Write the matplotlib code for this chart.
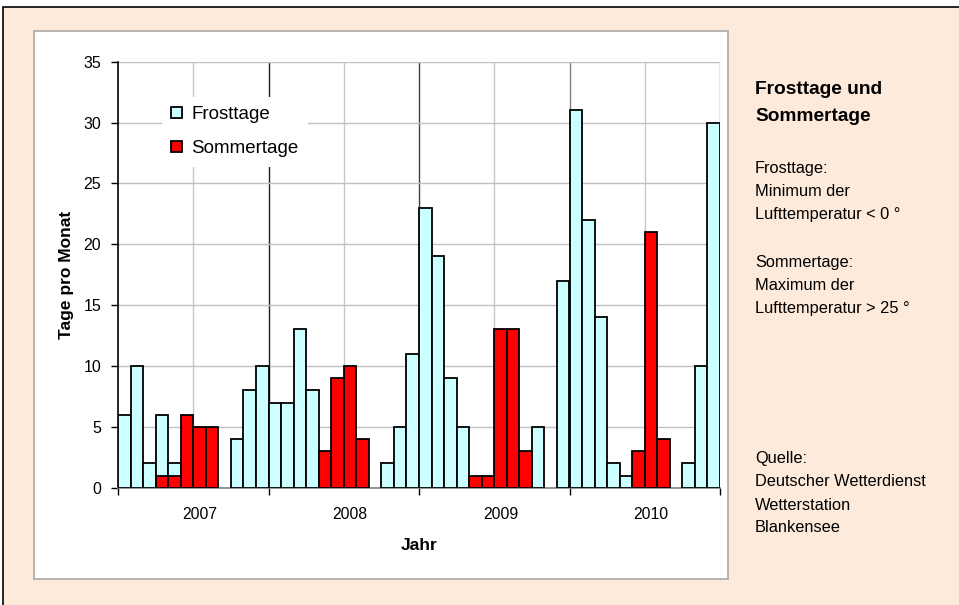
import matplotlib
matplotlib.use("Agg")
import matplotlib.pyplot as plt
import numpy as np
from matplotlib.patches import Rectangle

plt.rcParams['font.family'] = ['Liberation Sans', 'DejaVu Sans']

# monthly values, Jan 2007 .. Dec 2010
frosttage = [6, 10, 2, 6, 2, 0, 0, 0, 0, 4, 8, 10,
             7, 7, 13, 8, 0, 0, 0, 0, 0, 2, 5, 11,
             23, 19, 9, 5, 0, 0, 0, 0, 0, 5, 0, 17,
             31, 22, 14, 2, 1, 0, 0, 0, 0, 2, 10, 30]
sommertage = [0, 0, 0, 1, 1, 6, 5, 5, 0, 0, 0, 0,
              0, 0, 0, 0, 3, 9, 10, 4, 0, 0, 0, 0,
              0, 0, 0, 0, 1, 1, 13, 13, 3, 0, 0, 0,
              0, 0, 0, 0, 0, 3, 21, 4, 0, 0, 0, 0]
jahre = ['2007', '2008', '2009', '2010']

W, H = 959, 605
fig = plt.figure(figsize=(W / 100, H / 100), dpi=100)
fig.patch.set_facecolor('white')


def fx(px):
    return px / W


def fy(py):
    return 1 - py / H


# outer peach frame and white chart area
fig.patches.append(Rectangle((fx(3), fy(620)), fx(980) - fx(3), fy(7) - fy(620),
                             transform=fig.transFigure, facecolor='#FDEADA',
                             edgecolor='black', lw=1.2, zorder=-3))
fig.patches.append(Rectangle((fx(34), fy(579)), fx(728) - fx(34), fy(31) - fy(579),
                             transform=fig.transFigure, facecolor='white',
                             edgecolor='#A8A8A8', lw=1.2, zorder=-2))

ax = fig.add_axes([fx(118), fy(487.7), fx(720) - fx(118), fy(61.7) - fy(487.7)])
ax.set_facecolor('none')

n = len(frosttage)
x = np.arange(n) + 0.5
f = np.array(frosttage, dtype=float)
s = np.array(sommertage, dtype=float)

ax.bar(x[f > 0], f[f > 0], width=1.0, color='#CCFFFF', edgecolor='black',
       lw=1.3, zorder=3, label='Frosttage')
ax.bar(x[s > 0], s[s > 0], width=1.0, color='#FF0000', edgecolor='black',
       lw=1.3, zorder=4, label='Sommertage')

ax.set_xlim(0, n)
ax.set_ylim(0, 35)
ax.set_yticks(np.arange(0, 36, 5))
ax.grid(axis='y', color='#C0C0C0', lw=1, zorder=0)

# vertical grid: mid-year light, year boundaries darker
for k in range(6, n, 12):
    ax.axvline(k, color='#C8C8C8', lw=1, zorder=0)
for k, c in zip(range(12, n + 1, 12), ['#202020', '#404040', '#808080', '#909090']):
    ax.axvline(k, color=c, lw=1, zorder=0)

ax.set_xticks(np.arange(0, n + 1, 12))
ax.set_xticklabels([])
ax.set_xticks(np.arange(6.5, n, 12), minor=True)
ax.set_xticklabels(jahre, minor=True, fontsize=11.3)
ax.tick_params(axis='x', which='major', length=5, width=1, color='black', direction='out')
ax.tick_params(axis='x', which='minor', length=0, pad=14)
ax.tick_params(axis='y', length=5, width=1, color='black', direction='out',
               labelsize=11.5, pad=7)

for sp in ['top', 'right']:
    ax.spines[sp].set_visible(False)
ax.spines['left'].set_color('black')
ax.spines['left'].set_linewidth(1.2)
ax.spines['bottom'].set_color('#808080')
ax.spines['bottom'].set_linewidth(1.2)

leg = ax.legend(loc='upper left', bbox_to_anchor=(0.073, 0.918), fontsize=13.5,
                frameon=True, fancybox=False, framealpha=1, edgecolor='none',
                handlelength=0.55, handleheight=0.55, handletextpad=0.5,
                labelspacing=0.92, borderpad=0.5, borderaxespad=0)
leg.get_frame().set_facecolor('white')
leg.set_zorder(5)

fig.text(fx(67), fy(275), 'Tage pro Monat', rotation=90, fontsize=12.5,
         fontweight='bold', ha='center', va='center')
fig.text(fx(419), fy(546), 'Jahr', fontsize=12.5, fontweight='bold',
         ha='center', va='center')

# side panel
fig.text(fx(755), fy(90), 'Frosttage und', fontsize=13.8, fontweight='bold', va='center')
fig.text(fx(755), fy(117), 'Sommertage', fontsize=13.8, fontweight='bold', va='center')
side = [('Frosttage:', 169), ('Minimum der', 191), ('Lufttemperatur < 0 °', 214),
        ('Sommertage:', 262), ('Maximum der', 285), ('Lufttemperatur > 25 °', 309),
        ('Quelle:', 458), ('Deutscher Wetterdienst', 482), ('Wetterstation', 505),
        ('Blankensee', 527)]
for txt, py in side:
    fig.text(fx(755), fy(py), txt, fontsize=11.8, va='center')

fig.savefig('out.png', dpi=100)
